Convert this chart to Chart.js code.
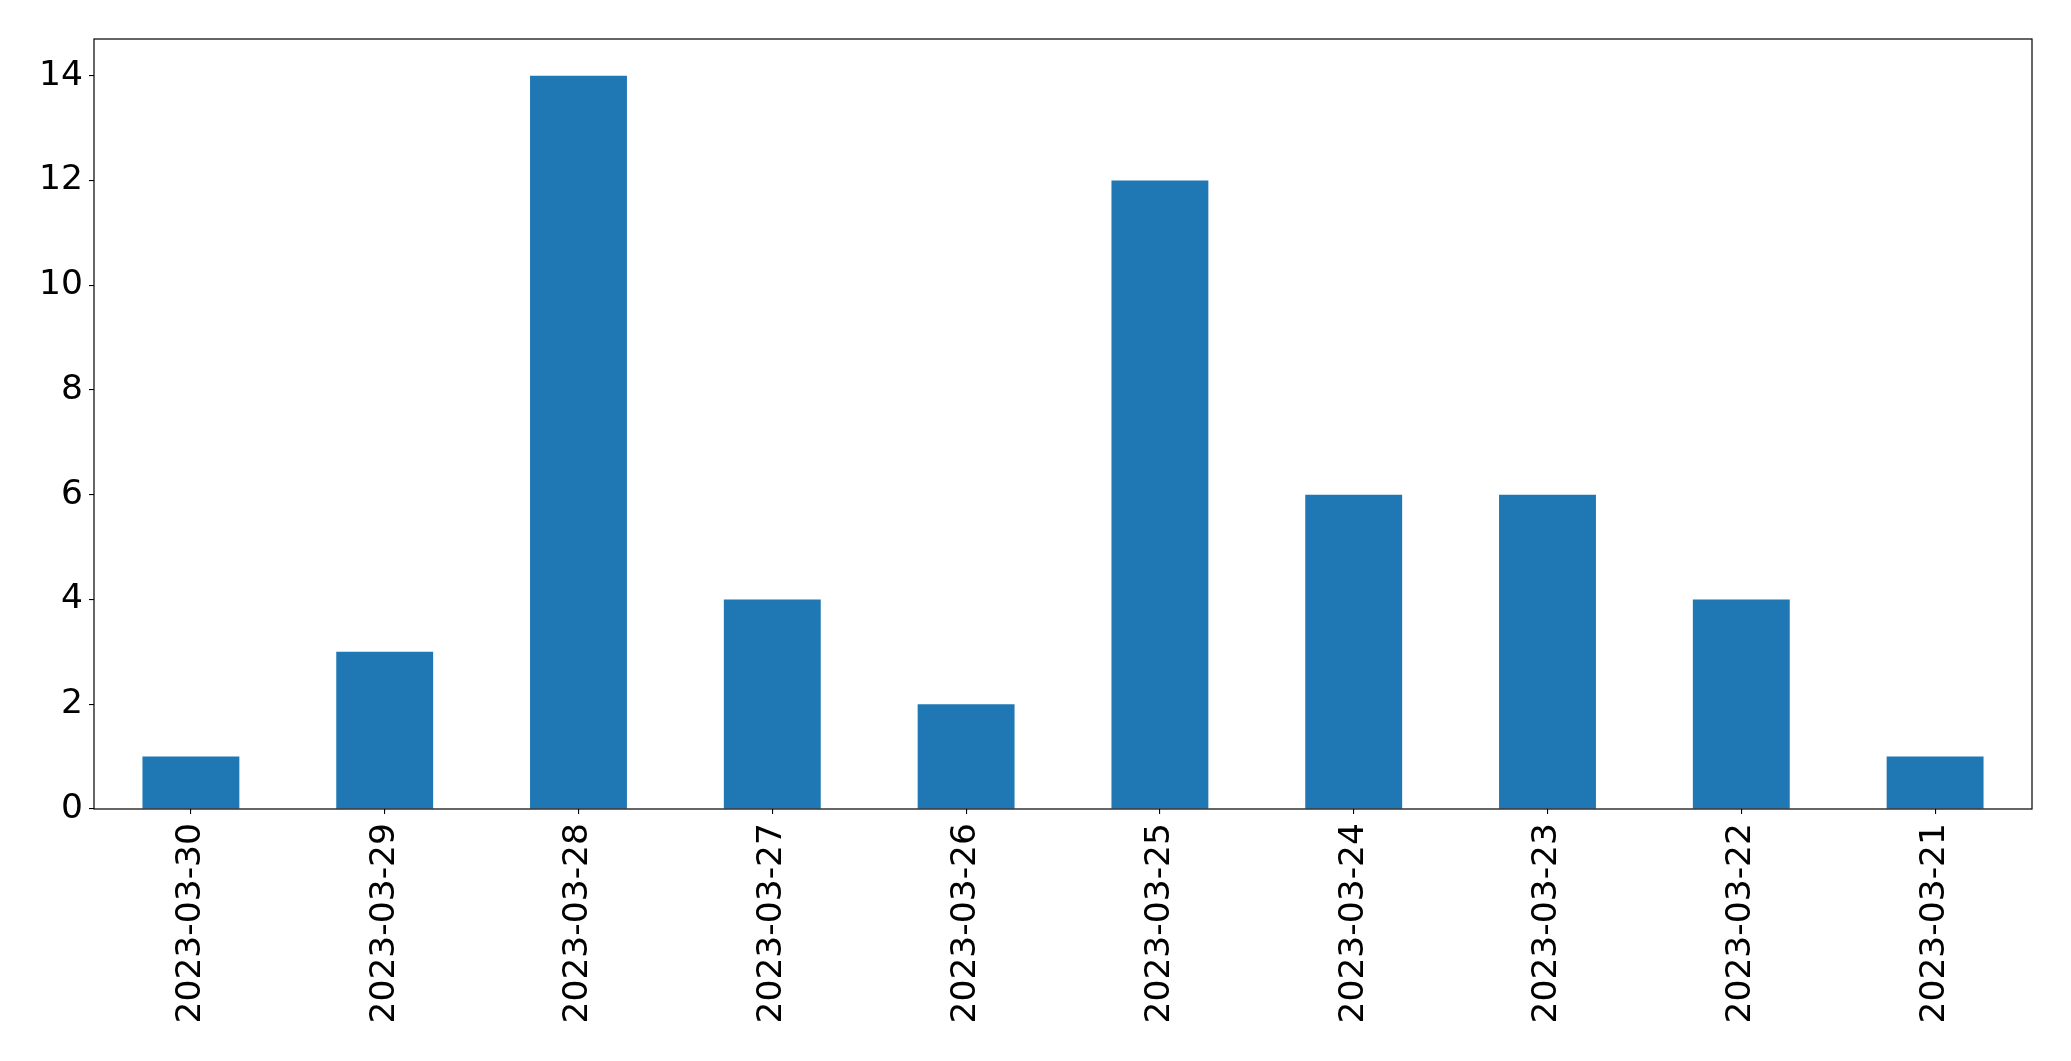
<!DOCTYPE html>
<html>
<head>
    <title>Daily Count</title>
    <script src="https://cdn.jsdelivr.net/npm/chart.js"></script>
    <style>
        body { margin: 0; background: #fff; }
    </style>
</head>
<body>
    <canvas id="countChart" width="2071" height="1061"></canvas>
    <script>
        // data
        var dates = ['2023-03-30', '2023-03-29', '2023-03-28', '2023-03-27', '2023-03-26',
                     '2023-03-25', '2023-03-24', '2023-03-23', '2023-03-22', '2023-03-21'];
        var counts = [1, 3, 14, 4, 2, 12, 6, 6, 4, 1];
        var yTicks = [0, 2, 4, 6, 8, 10, 12, 14];

        var tickFont = { family: 'DejaVu Sans', size: 34.5 };

        // black frame round the plot area, like matplotlib spines
        var framePlugin = {
            id: 'frame',
            afterDraw: function (chart) {
                var a = chart.chartArea;
                var c = chart.ctx;
                c.save();
                c.strokeStyle = '#000';
                c.lineWidth = 1.2;
                c.strokeRect(a.left, a.top, a.right - a.left, a.bottom - a.top);
                c.restore();
            }
        };

        var ctx = document.getElementById('countChart').getContext('2d');
        var countChart = new Chart(ctx, {
            type: 'bar',
            data: {
                labels: dates,
                datasets: [{
                    label: 'count',
                    data: counts,
                    backgroundColor: '#1f77b4',
                    borderWidth: 0,
                    barPercentage: 0.5,
                    categoryPercentage: 1.0
                }]
            },
            options: {
                responsive: false,
                animation: false,
                layout: {
                    padding: { left: 0, top: 39, right: 39, bottom: 0 }
                },
                plugins: {
                    legend: { display: false },
                    tooltip: { enabled: false }
                },
                scales: {
                    x: {
                        grid: {
                            offset: false,
                            drawOnChartArea: false,
                            drawTicks: true,
                            tickLength: 5,
                            color: '#000',
                            lineWidth: 1.1
                        },
                        border: { display: false },
                        ticks: {
                            color: '#000',
                            font: tickFont,
                            minRotation: 90,
                            maxRotation: 90,
                            padding: 9,
                            autoSkip: false
                        },
                        afterFit: function (scale) { scale.height = 1061 - 809; }
                    },
                    y: {
                        min: 0,
                        max: 14.7,
                        grid: {
                            drawOnChartArea: false,
                            drawTicks: true,
                            tickLength: 5,
                            color: '#000',
                            lineWidth: 1.1
                        },
                        border: { display: false },
                        ticks: {
                            color: '#000',
                            font: tickFont,
                            padding: 6
                        },
                        afterBuildTicks: function (scale) {
                            scale.ticks = yTicks.map(function (v) { return { value: v }; });
                        },
                        afterFit: function (scale) { scale.width = 94; }
                    }
                }
            },
            plugins: [framePlugin]
        });
    </script>
</body>
</html>
